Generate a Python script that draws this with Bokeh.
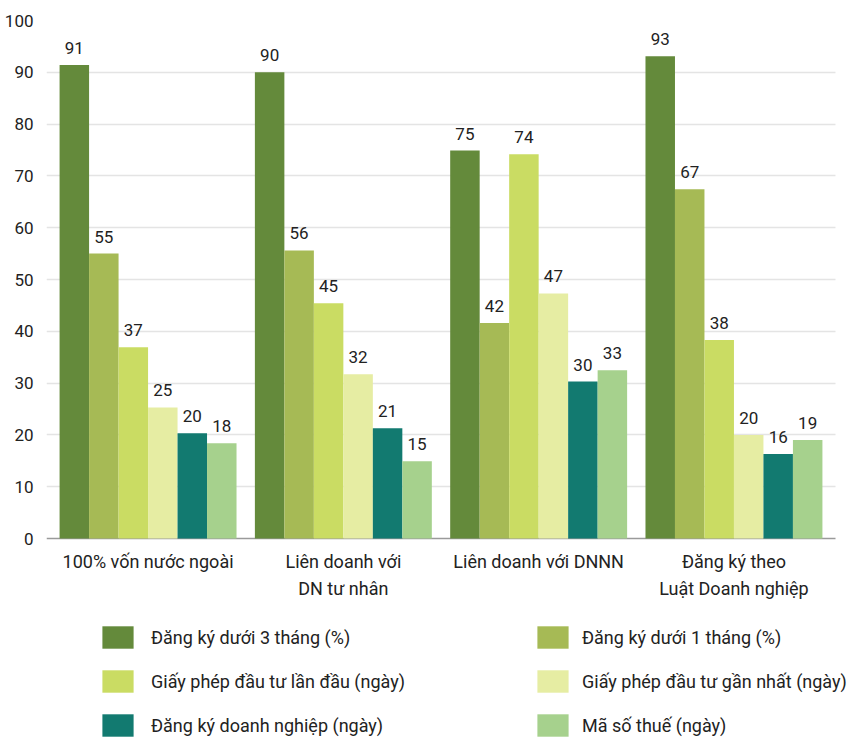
from bokeh.plotting import figure
from bokeh.models import (ColumnDataSource, FixedTicker, Legend, LegendItem, Range1d,
                          Grid)
from bokeh.transform import dodge
from bokeh.embed import file_html
from bokeh.resources import INLINE
from bokeh.core.properties import value

# ---------------- data ----------------
categories = ["100% vốn nước ngoài", "Liên doanh với\nDN tư nhân",
              "Liên doanh với DNNN", "Đăng ký theo\nLuật Doanh nghiệp"]

series_names = ["Đăng ký dưới 3 tháng (%)", "Đăng ký dưới 1 tháng (%)",
                "Giấy phép đầu tư lần đầu (ngày)", "Giấy phép đầu tư gần nhất (ngày)",
                "Đăng ký doanh nghiệp (ngày)", "Mã số thuế (ngày)"]

dk_3_thang = [91.4, 90.0, 74.9, 93.1]
dk_1_thang = [55.0, 55.6, 41.6, 67.4]
gp_lan_dau = [36.9, 45.4, 74.2, 38.3]
gp_gan_nhat = [25.3, 31.7, 47.3, 20.0]
dk_doanh_nghiep = [20.3, 21.3, 30.3, 16.3]
ma_so_thue = [18.4, 14.9, 32.5, 19.0]

lbl_3_thang = ["91", "90", "75", "93"]
lbl_1_thang = ["55", "56", "42", "67"]
lbl_lan_dau = ["37", "45", "74", "38"]
lbl_gan_nhat = ["25", "32", "47", "20"]
lbl_doanh_nghiep = ["20", "21", "30", "16"]
lbl_ma_so_thue = ["18", "15", "33", "19"]

y_ticks = [0, 10, 20, 30, 40, 50, 60, 70, 80, 90, 100]

colors = ["#648A3B", "#A6BA55", "#CADC63", "#E6EDA3", "#127A70", "#A6D18D"]

all_values = [dk_3_thang, dk_1_thang, gp_lan_dau, gp_gan_nhat, dk_doanh_nghiep, ma_so_thue]
all_labels = [lbl_3_thang, lbl_1_thang, lbl_lan_dau, lbl_gan_nhat, lbl_doanh_nghiep, lbl_ma_so_thue]

# ---------------- style ----------------
FONT = "Roboto"
TXT = "#222222"
BAR_W = 0.151
X_START, X_END = -0.52, 3.52

p = figure(width=852, height=739, output_backend="svg", toolbar_location=None,
           x_range=Range1d(X_START, 3.607), y_range=Range1d(-38.80, 100),
           x_axis_location=None,
           min_border_left=46, min_border_right=0, min_border_top=20,
           min_border_bottom=0)
p.outline_line_color = None
p.background_fill_color = "white"
p.border_fill_color = "white"
p.xgrid.grid_line_color = None

p.yaxis.ticker = FixedTicker(ticks=y_ticks)
p.ygrid.ticker = FixedTicker(ticks=y_ticks[1:])
p.ygrid.grid_line_color = "#e4e4e4"
p.ygrid.grid_line_width = 1.5
p.ygrid.cross_bounds = (X_START, X_END)
p.yaxis.axis_line_color = None
p.yaxis.major_tick_line_color = None
p.yaxis.minor_tick_line_color = None
p.yaxis.major_tick_out = 0
p.yaxis.minor_tick_out = 0
p.yaxis.major_label_standoff = 13
p.yaxis.major_label_text_font = FONT
p.yaxis.major_label_text_font_size = "17px"
p.yaxis.major_label_text_color = TXT

# baseline (x axis line at 0)
base = Grid(dimension=1, ticker=FixedTicker(ticks=[0]), grid_line_color="#9a9a9a",
            grid_line_width=1.5, cross_bounds=(X_START, X_END))
p.add_layout(base)

renderers = []
n = len(all_values)
for j, (vals, lbls) in enumerate(zip(all_values, all_labels)):
    src = ColumnDataSource(dict(x=list(range(len(categories))), top=vals, label=lbls))
    off = (j - (n - 1) / 2) * BAR_W
    r = p.vbar(x=dodge("x", off), top="top", width=BAR_W, source=src,
               fill_color=colors[j], line_color=None)
    renderers.append(r)
    p.text(x=dodge("x", off), y="top", text="label", source=src,
           text_align="center", text_baseline="alphabetic", y_offset=-17,
           text_font=value(FONT), text_font_size="17px", text_color=TXT)

# category labels under the baseline
cat_src = ColumnDataSource(dict(x=list(range(len(categories))),
                                y=[0] * len(categories), name=categories))
p.text(x="x", y="y", text="name", source=cat_src, text_align="center",
       text_baseline="top", y_offset=12, text_line_height=1.3,
       text_font=value(FONT), text_font_size="18px", text_color=TXT)

def make_legend(idx, xloc, standoff):
    items = [LegendItem(label=series_names[i], renderers=[renderers[i]]) for i in idx]
    return Legend(items=items, location=(xloc, 0), orientation="vertical",
                  glyph_width=39, glyph_height=28, spacing=16, padding=0, margin=0,
                  label_standoff=standoff, label_text_font=FONT,
                  label_text_font_size="18px",
                  label_text_color=TXT, background_fill_alpha=0, border_line_alpha=0,
                  label_height=28)

p.add_layout(make_legend([0, 2, 4], 52, 14))
p.add_layout(make_legend([1, 3, 5], 487, 10))

open("out.html", "w").write(file_html(p, INLINE))
